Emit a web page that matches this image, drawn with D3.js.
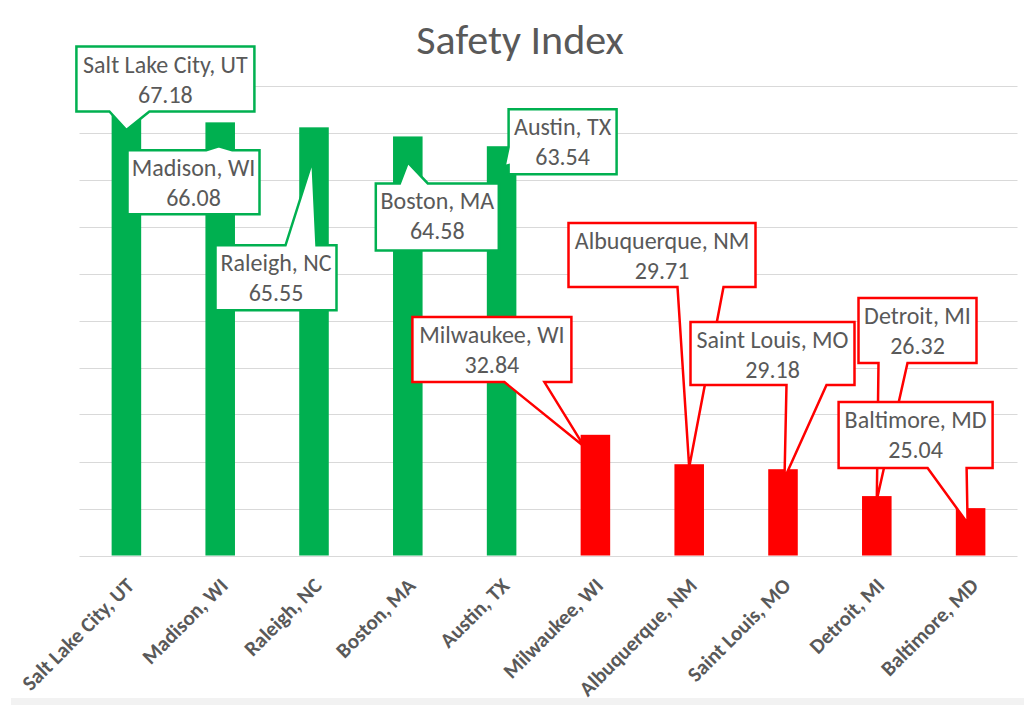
<!DOCTYPE html>
<html>
<head>
<meta charset="utf-8">
<script src="https://cdn.jsdelivr.net/npm/d3@7"></script>
<style>
  html, body { margin: 0; padding: 0; background: #ffffff; }
  svg { display: block; }
</style>
</head>
<body>
<svg id="chart" width="1024" height="712"></svg>
<script>
// ---- data ----
const cities = ["Salt Lake City, UT", "Madison, WI", "Raleigh, NC", "Boston, MA", "Austin, TX",
                "Milwaukee, WI", "Albuquerque, NM", "Saint Louis, MO", "Detroit, MI", "Baltimore, MD"];
const values = [67.18, 66.08, 65.55, 64.58, 63.54, 32.84, 29.71, 29.18, 26.32, 25.04];
const groups = ["safe", "safe", "safe", "safe", "safe", "unsafe", "unsafe", "unsafe", "unsafe", "unsafe"];
const yTicks = [20, 25, 30, 35, 40, 45, 50, 55, 60, 65, 70];
const title = "Safety Index";

// ---- layout (callout placement relative to bar centre / bar top) ----
const callouts = [
  { box: [-50, -65.5, 178, 65], edge: "bottom", base: [-17, 23], tip: [0, 18] },
  { box: [-92.7, 28, 132, 64], edge: "top", base: [-14, 12], tip: [-1.5, 24] },
  { box: [-98.5, 118, 121, 65], edge: "top", base: [-28.5, 2.5], tip: [-1.5, 33] },
  { box: [-32, 47, 123, 67], edge: "top", base: [-8, 20], tip: [0, 26] },
  { box: [7, -37, 108, 65], edge: "left", base: [1, 19], tip: [3, 20] },
  { box: [-183, -117.7, 159, 65], edge: "bottom", base: [-91, -51], tip: [-11, 12] },
  { box: [-120.7, -241.2, 187, 64], edge: "bottom", base: [-11.7, 34.3], tip: [0, 3] },
  { box: [-92.5, -147.2, 164, 63], edge: "bottom", base: [3.5, 43.5], tip: [1.5, 9] },
  { box: [-18.3, -198, 118, 65], edge: "bottom", base: [1.7, 30.7], tip: [0, 4] },
  { box: [-132, -106, 154, 66], edge: "bottom", base: [-43, -4], tip: [-3, 15] }
];

const colors = { safe: "#00B050", unsafe: "#FF0000" };
const textColor = "#595959";
const font = "Carlito, Lato, 'Open Sans', 'DejaVu Sans', sans-serif";

const svg = d3.select("#chart");
const W = 1024, H = 712;
const plot = { left: 79.5, right: 1017.5, top: 85.5, bottom: 555.5 };

// faint screenshot band at the bottom
svg.append("rect").attr("x", 11).attr("y", 698).attr("width", W - 11).attr("height", 7).attr("fill", "#f2f2f2");

const x = d3.scaleBand().domain(cities).range([plot.left, plot.right]).paddingInner(0.685).paddingOuter(0.3425);
const y = d3.scaleLinear().domain([20, 70]).range([plot.bottom, plot.top]);

// gridlines
svg.append("g").selectAll("line").data(yTicks).join("line")
  .attr("x1", plot.left).attr("x2", plot.right)
  .attr("y1", d => Math.round(y(d)) + 0.5).attr("y2", d => Math.round(y(d)) + 0.5)
  .attr("stroke", "#d9d9d9").attr("stroke-width", 1);

// bars
svg.append("g").selectAll("rect").data(cities).join("rect")
  .attr("x", d => x(d))
  .attr("width", x.bandwidth())
  .attr("y", (d, i) => y(values[i]))
  .attr("height", (d, i) => y(20) - y(values[i]))
  .attr("fill", (d, i) => colors[groups[i]]);

// x-axis labels
svg.append("g").selectAll("text").data(cities).join("text")
  .attr("transform", d => `translate(${x(d) + x.bandwidth() / 2 + 9},587) rotate(-45)`)
  .attr("text-anchor", "end")
  .attr("font-family", font).attr("font-weight", "bold").attr("font-size", 21)
  .attr("fill", textColor)
  .text(d => d);

// title
svg.append("text").attr("x", 520).attr("y", 54).attr("text-anchor", "middle")
  .attr("font-family", font).attr("font-size", 42).attr("fill", textColor).text(title);

// callouts
function calloutPath(c, cx, ty) {
  const x0 = cx + c.box[0], y0 = ty + c.box[1], x1 = x0 + c.box[2], y1 = y0 + c.box[3];
  const tx = cx + c.tip[0], tyy = ty + c.tip[1];
  let pts;
  if (c.edge === "bottom") {
    const a = cx + c.base[0], b = cx + c.base[1];
    pts = [[x0, y0], [x1, y0], [x1, y1], [b, y1], [tx, tyy], [a, y1], [x0, y1]];
  } else if (c.edge === "top") {
    const a = cx + c.base[0], b = cx + c.base[1];
    pts = [[x0, y0], [a, y0], [tx, tyy], [b, y0], [x1, y0], [x1, y1], [x0, y1]];
  } else {
    const a = ty + c.base[0], b = ty + c.base[1];
    pts = [[x0, y0], [x1, y0], [x1, y1], [x0, y1], [x0, b], [tx, tyy], [x0, a]];
  }
  return "M" + pts.map(p => p.join(",")).join("L") + "Z";
}

const cg = svg.append("g");
cities.forEach((city, i) => {
  const c = callouts[i];
  const cx = x(city) + x.bandwidth() / 2;
  const ty = y(values[i]);
  const col = colors[groups[i]];
  const g = cg.append("g");
  g.append("path").attr("d", calloutPath(c, cx, ty))
    .attr("fill", "#ffffff").attr("stroke", col).attr("stroke-width", 2.5)
    .attr("stroke-linejoin", "miter");
  const bx = cx + c.box[0] + c.box[2] / 2, by = ty + c.box[1];
  g.append("text").attr("x", bx).attr("y", by + 26).attr("text-anchor", "middle")
    .attr("font-family", font).attr("font-size", 24).attr("fill", textColor).text(city);
  g.append("text").attr("x", bx).attr("y", by + 56).attr("text-anchor", "middle")
    .attr("font-family", font).attr("font-size", 24).attr("fill", textColor).text(values[i].toFixed(2));
});
</script>
</body>
</html>
